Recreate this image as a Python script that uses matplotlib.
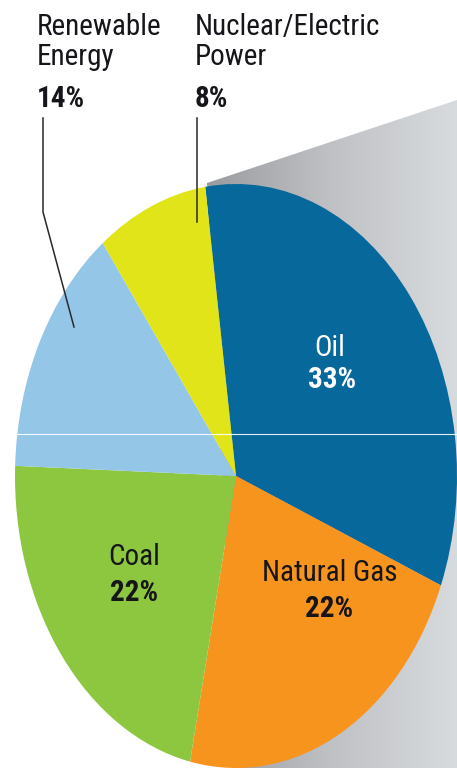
import matplotlib
matplotlib.use('Agg')
import matplotlib.pyplot as plt
import numpy as np
from matplotlib import font_manager
from matplotlib.patches import Polygon
from matplotlib.colors import LinearSegmentedColormap

# ---- data ----
categories = ['Oil', 'Natural Gas', 'Coal', 'Renewable Energy', 'Nuclear/Electric Power']
shares = [33, 22, 22, 14, 8]
colors = ['#07689c', '#f7941d', '#8dc63f', '#94c6e7', '#e2e41a']
pct_labels = [f'{v}%' for v in shares]

W, H = 457, 768
fig = plt.figure(figsize=(W / 100, H / 100), dpi=100)


def pick_font():
    for fam in ['Roboto Condensed', 'Liberation Sans Narrow', 'Arial Narrow']:
        try:
            font_manager.findfont(font_manager.FontProperties(family=fam),
                                  fallback_to_default=False)
            return fam, 'normal'
        except Exception:
            pass
    return 'DejaVu Sans', 'condensed'


FAM, STRETCH = pick_font()

# ---- background (gray panel) ----
ax_bg = fig.add_axes([0, 0, 1, 1])
ax_bg.set_xlim(0, W)
ax_bg.set_ylim(H, 0)
ax_bg.axis('off')
poly = Polygon([(207, 183), (457, 100), (457, 768), (236, 768)], closed=True,
               facecolor='none', edgecolor='none')
ax_bg.add_patch(poly)
grad = np.linspace(0, 1, 256).reshape(1, -1)
cmap = LinearSegmentedColormap.from_list('g', ['#999b9e', '#bfc1c4', '#d8dbde'])
im = ax_bg.imshow(grad, extent=(205, 457, 768, 95), aspect='auto', cmap=cmap,
                  interpolation='bilinear', zorder=1)
im.set_clip_path(poly)

# ---- pie ----
cx, cy, rx, ry = 236, 476, 221, 292
ax_pie = fig.add_axes([(cx - rx) / W, (H - cy - ry) / H, 2 * rx / W, 2 * ry / H])
ax_pie.pie(shares, colors=colors, startangle=98, counterclock=False,
           radius=1, wedgeprops=dict(linewidth=0))
ax_pie.set_aspect('auto')
ax_pie.set_xlim(-1, 1)
ax_pie.set_ylim(-1, 1)
ax_pie.axis('off')
ax_pie.patch.set_alpha(0)

# ---- overlay ----
ax = fig.add_axes([0, 0, 1, 1])
ax.set_xlim(0, W)
ax.set_ylim(H, 0)
ax.axis('off')
ax.patch.set_alpha(0)

ax.plot([15, 457], [434, 434], color='white', lw=0.8, alpha=0.9)

fs = 21
kw = dict(family=FAM, fontstretch=STRETCH, fontsize=fs)
dark = '#15151a'

# outside labels
ax.text(37, 35, 'Renewable', color=dark, va='baseline', ha='left', **kw)
ax.text(37, 65, 'Energy', color=dark, va='baseline', ha='left', **kw)
ax.text(37, 107, pct_labels[3], color=dark, va='baseline', ha='left', weight='bold', **kw)
ax.text(195, 35, 'Nuclear/Electric', color=dark, va='baseline', ha='left', **kw)
ax.text(195, 65, 'Power', color=dark, va='baseline', ha='left', **kw)
ax.text(195, 107, pct_labels[4], color=dark, va='baseline', ha='left', weight='bold', **kw)

ax.plot([43, 43, 74], [118, 212, 327], color='#2a2a2a', lw=1.1)
ax.plot([197, 197], [118, 222], color='#2a2a2a', lw=1.1)

# inside labels
ax.text(330, 348, categories[0], color='white', ha='center', va='center', **kw)
ax.text(332, 380, pct_labels[0], color='white', ha='center', va='center', weight='bold', **kw)
ax.text(134, 557, categories[2], color=dark, ha='center', va='center', **kw)
ax.text(134, 593, pct_labels[2], color=dark, ha='center', va='center', weight='bold', **kw)
ax.text(330, 573, categories[1], color=dark, ha='center', va='center', **kw)
ax.text(329, 609, pct_labels[1], color=dark, ha='center', va='center', weight='bold', **kw)

fig.savefig('out.png', dpi=100)
